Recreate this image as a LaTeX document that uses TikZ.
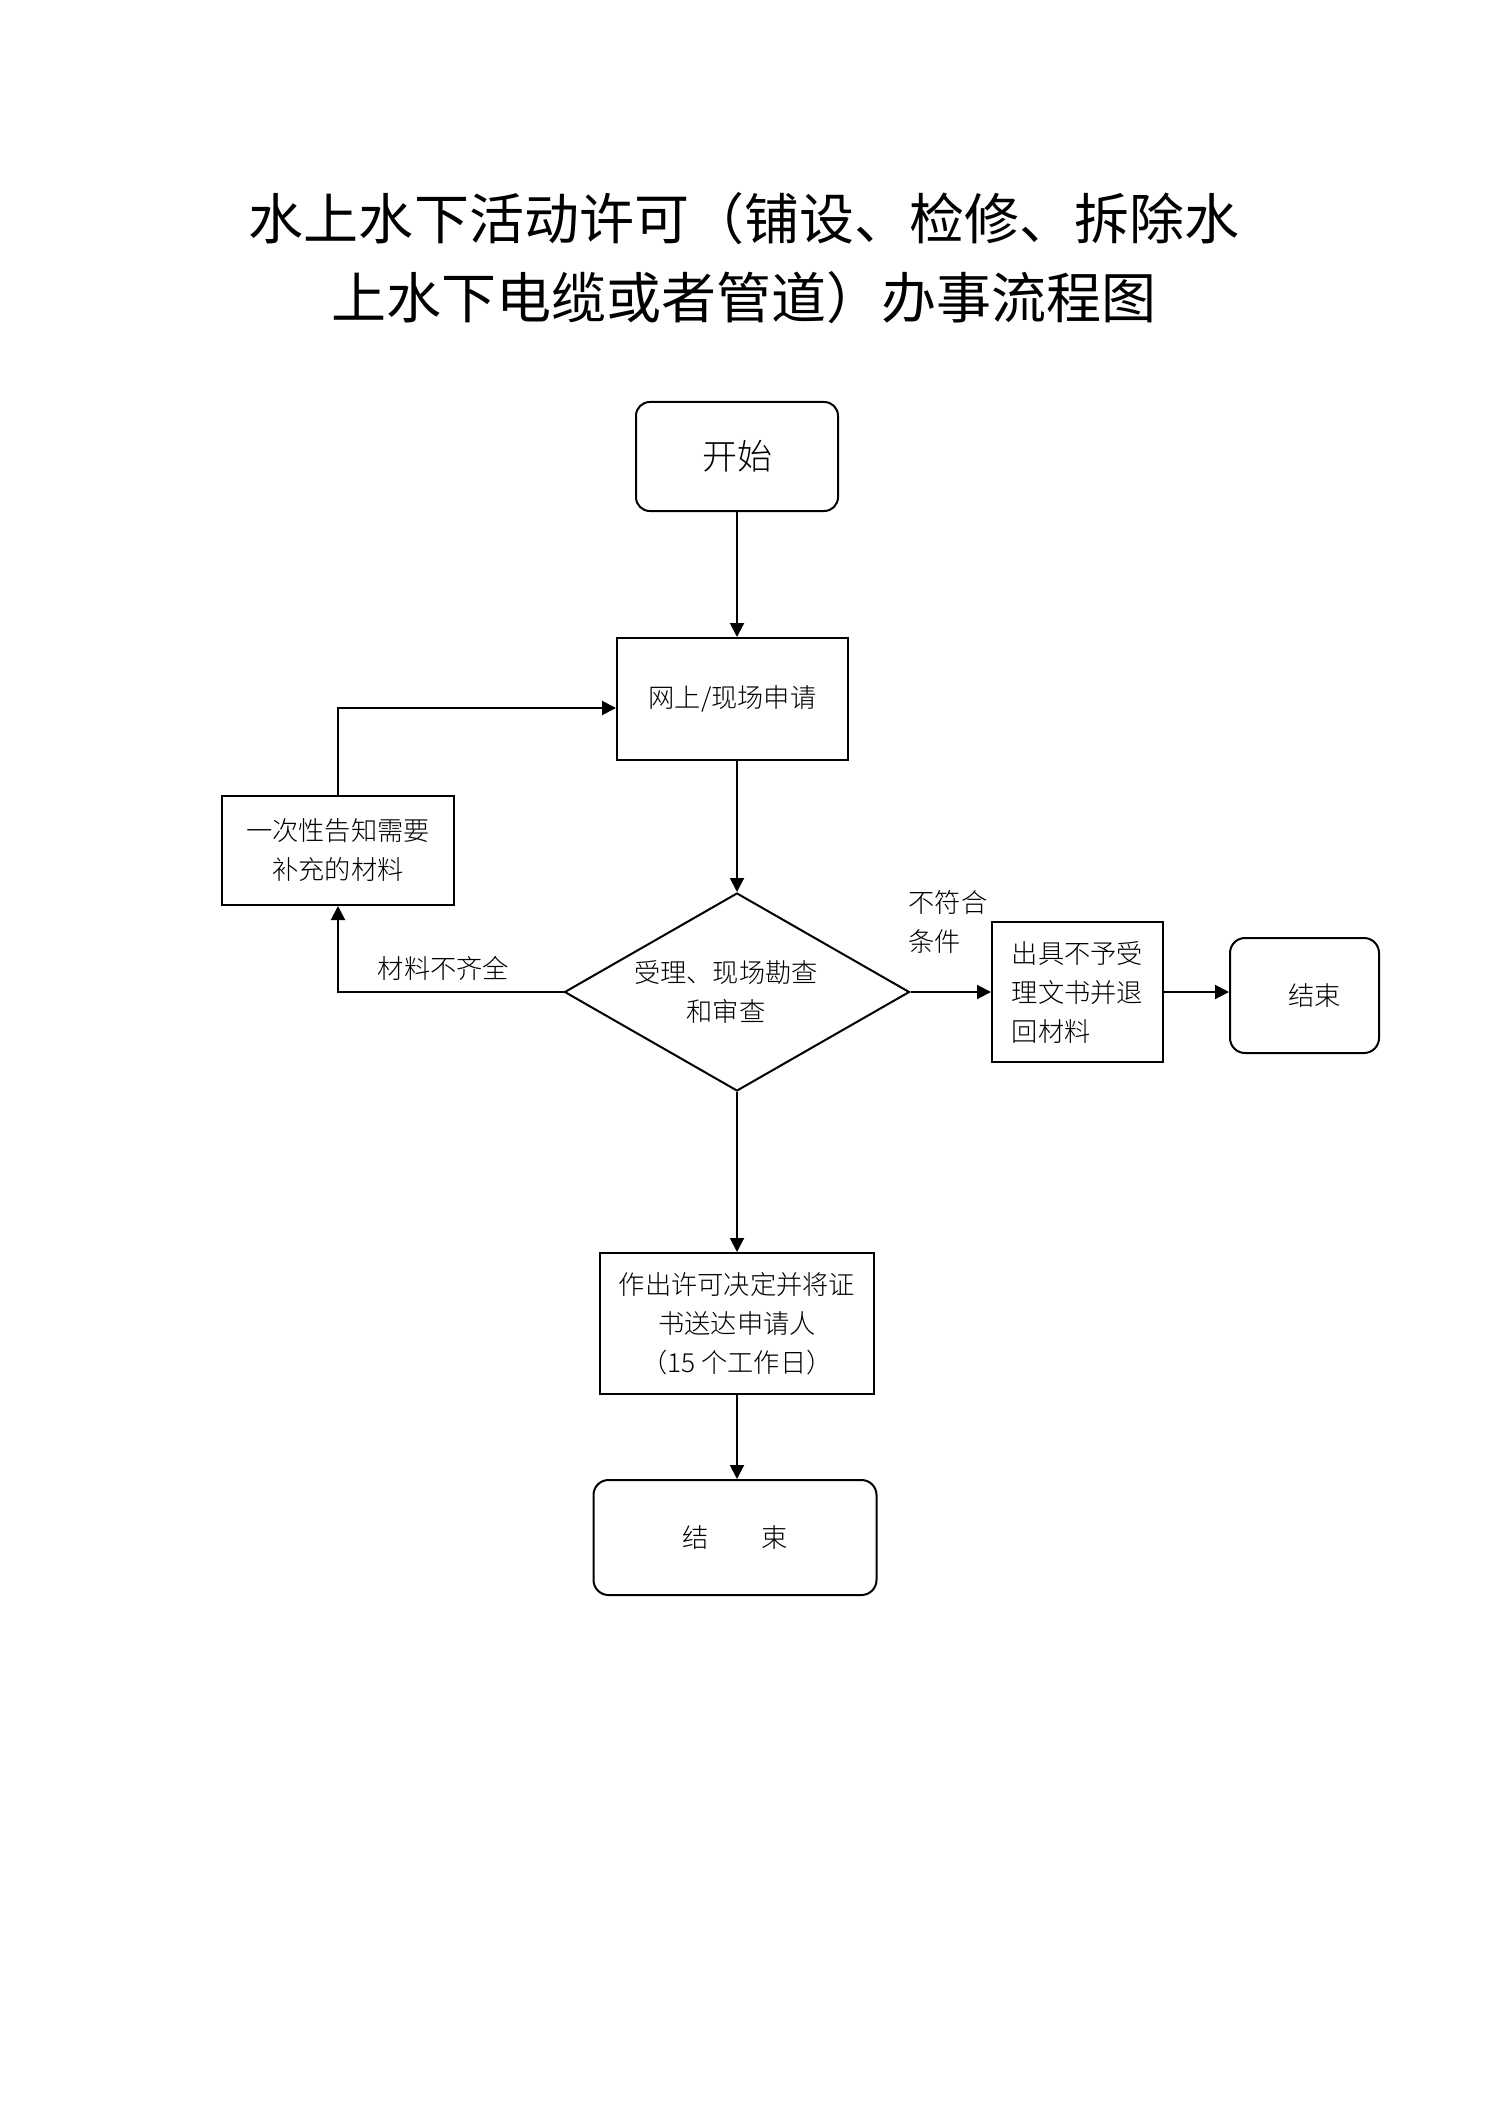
\documentclass[tikz,border=0pt]{standalone}
\usepackage{fontspec}
\setmainfont{Noto Sans CJK SC}[UprightFont={* Light}]
\newfontfamily\titlefont{Noto Sans CJK SC}
\usetikzlibrary{shapes.geometric,arrows.meta}
\begin{document}
\begin{tikzpicture}[x=0.4pt,y=-0.4pt,
  every node/.style={inner sep=0pt, font=\fontsize{10.5}{15.6}\selectfont},
  boxstyle/.style={draw, line width=0.8pt, rectangle, align=center},
  roundbox/.style={boxstyle, rounded corners=5.5pt},
  decision/.style={draw, line width=0.8pt, diamond, aspect=1.74, align=center},
  arr/.style={line width=0.8pt, -{Triangle[length=5.6pt,width=5.6pt]}},
  conn/.style={line width=0.8pt}
]
\useasboundingbox (0,0) rectangle (1488,2104);
% title
\node[align=center, font=\titlefont\fontsize{22}{31.6}\selectfont] (title) at (744,258.5)
  {水上水下活动许可（铺设、检修、拆除水\\上水下电缆或者管道）办事流程图};
% nodes
\node[roundbox, minimum width=80.8pt, minimum height=43.6pt,
  font=\fontsize{14}{16}\selectfont] (start) at (737,456.5) {开始};
\node[boxstyle, minimum width=92.4pt, minimum height=48.8pt] (apply) at (732.5,699) {网上/现场申请};
\node[boxstyle, minimum width=92.8pt, minimum height=43.6pt] (notify) at (338,850.5) {一次性告知需要\\补充的材料};
\node[decision, minimum width=138pt, minimum height=79.2pt] (review) at (737,992) {受理、现场勘查\hspace*{8.8pt}\\和审查\hspace*{8.8pt}};
\node[boxstyle, align=left, minimum width=68.4pt, minimum height=56pt] (refuse) at (1077.5,992) {出具不予受\\理文书并退\\回材料};
\node[roundbox, rounded corners=6pt, minimum width=59.6pt, minimum height=46pt] (endA) at (1304.5,995.5) {\hspace*{8pt}结束};
\node[boxstyle, minimum width=109.6pt, minimum height=56.4pt] (decide) at (737,1323.5) {作出许可决定并将证\\书送达申请人\\（15 个工作日）};
\node[roundbox, rounded corners=6pt, minimum width=113.2pt, minimum height=46pt] (endB) at (735,1537.5) {结　　束};
% labels
\node (lblA) at (443.5,968) {材料不齐全};
\node[anchor=west, align=left] (lblB) at (908,922) {不符合\\条件};
% connectors
\draw[arr] (start.south) -- (start.south |- apply.north);
\draw[arr] (review.north |- apply.south) -- (review.north);
\draw[arr] (review.west) -| (notify.south);
\draw[arr] (notify.north) |- ([yshift=-3.6pt]apply.west);
\draw[arr] (review.east) -- (refuse.west);
\draw[arr] (refuse.east) -- (refuse.east -| endA.west);
\draw[arr] (review.south) -- (review.south |- decide.north);
\draw[arr] (decide.south) -- (decide.south |- endB.north);
\end{tikzpicture}
\end{document}
